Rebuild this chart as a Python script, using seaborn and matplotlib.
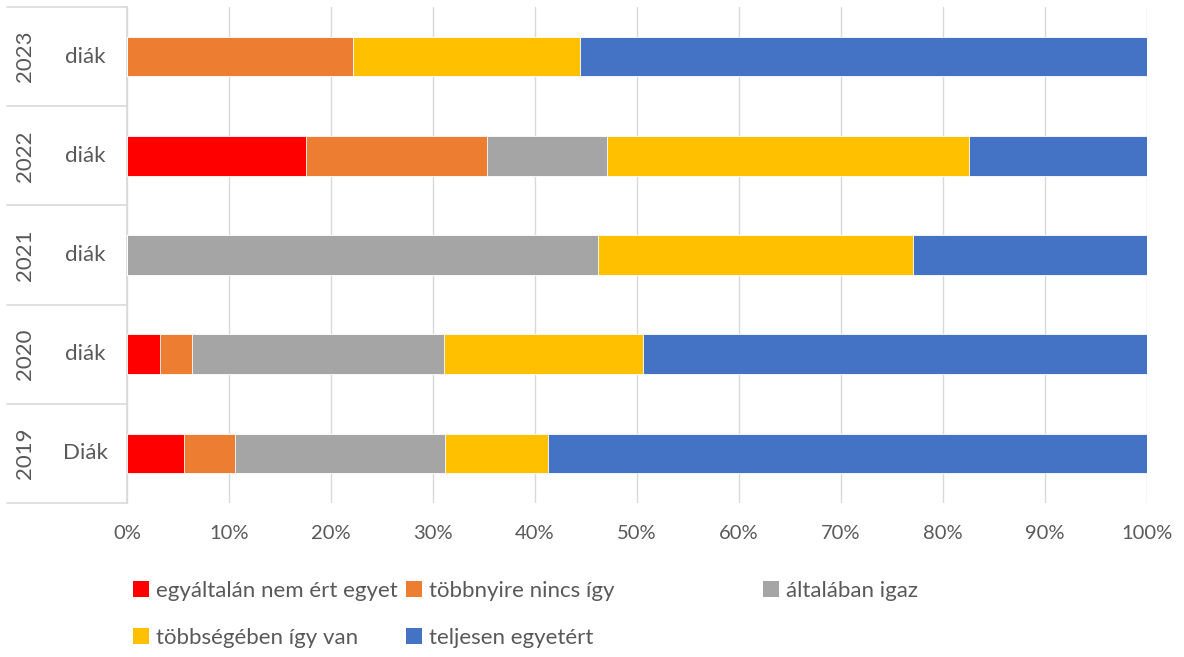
import numpy as np
import pandas as pd
import matplotlib
matplotlib.use("Agg")
import matplotlib.pyplot as plt
from matplotlib.patches import Patch
import seaborn as sns

# data (percent of answers)
years = ["2023", "2022", "2021", "2020", "2019"]
groups = ["diák", "diák", "diák", "diák", "Diák"]
categories = ["egyáltalán nem ért egyet", "többnyire nincs így", "általában igaz",
              "többségében így van", "teljesen egyetért"]
egyaltalan = [0.0, 17.5, 0.0, 3.2, 5.6]
tobbnyire = [22.2, 17.8, 0.0, 3.2, 5.0]
altalaban = [0.0, 11.8, 46.2, 24.7, 20.6]
tobbsegeben = [22.2, 35.4, 30.9, 19.5, 10.1]
teljesen = [55.6, 17.5, 22.9, 49.4, 58.7]
colors = ["#ff0000", "#ed7d31", "#a5a5a5", "#ffc000", "#4472c4"]

sns.set_theme(style="white")
plt.rcParams["font.family"] = ["Lato", "DejaVu Sans"]
text_col = "#595959"
grid_col = "#d9d9d9"

df = pd.DataFrame({"year": years, categories[0]: egyaltalan, categories[1]: tobbnyire,
                   categories[2]: altalaban, categories[3]: tobbsegeben, categories[4]: teljesen})
cum = df[categories].cumsum(axis=1)

fig = plt.figure(figsize=(11.84, 6.57), dpi=100)
ax = fig.add_axes([127 / 1184, 1 - 503 / 657, 1020 / 1184, 496 / 657])

# draw cumulative bars from the largest down so each segment shows
for cat, col in reversed(list(zip(categories, colors))):
    sns.barplot(x=cum[cat], y=df["year"], order=years, orient="h", color=col,
                saturation=1, width=0.4, edgecolor="white", linewidth=0.6,
                ax=ax, zorder=3)

ax.set_xlim(0, 100)
ax.set_ylim(4.5, -0.5)
ax.set_xticks(np.arange(0, 101, 10))
ax.set_xticklabels([f"{v}%" for v in range(0, 101, 10)], fontsize=14.5, color=text_col)
ax.tick_params(axis="x", length=0, pad=16)
ax.set_yticks([])
ax.set_xlabel("")
ax.set_ylabel("")
ax.grid(axis="x", color=grid_col, linewidth=1, zorder=0)
for s in ["top", "right", "bottom"]:
    ax.spines[s].set_visible(False)
ax.spines["left"].set_color(grid_col)
ax.spines["left"].set_linewidth(1.2)

# two-level category labels on the left
for i, (yr, g) in enumerate(zip(years, groups)):
    ax.text(-0.10, i, yr, rotation=90, ha="center", va="center", fontsize=16,
            color=text_col, transform=ax.get_yaxis_transform())
    ax.text(-0.041, i, g, ha="center", va="center", fontsize=16,
            color=text_col, transform=ax.get_yaxis_transform())
for b in np.arange(-0.5, 5, 1.0):
    ax.plot([-0.118, 0], [b, b], color=grid_col, linewidth=1.2, clip_on=False,
            transform=ax.get_yaxis_transform())

# legend laid out like the original: row-major in three columns
handles = [Patch(facecolor=c, edgecolor="none") for c in colors]
cols = [([0, 3], 133), ([1, 4], 406), ([2], 763)]
for idx, xpx in cols:
    leg = fig.legend([handles[i] for i in idx], [categories[i] for i in idx],
                     loc="upper left", bbox_to_anchor=(xpx / 1184, 1 - 581 / 657),
                     frameon=False, fontsize=16, handlelength=0.72, handleheight=0.72,
                     handletextpad=0.3, labelspacing=1.2, borderpad=0, borderaxespad=0)
    for t in leg.get_texts():
        t.set_color(text_col)

fig.savefig("out.png", dpi=100)
